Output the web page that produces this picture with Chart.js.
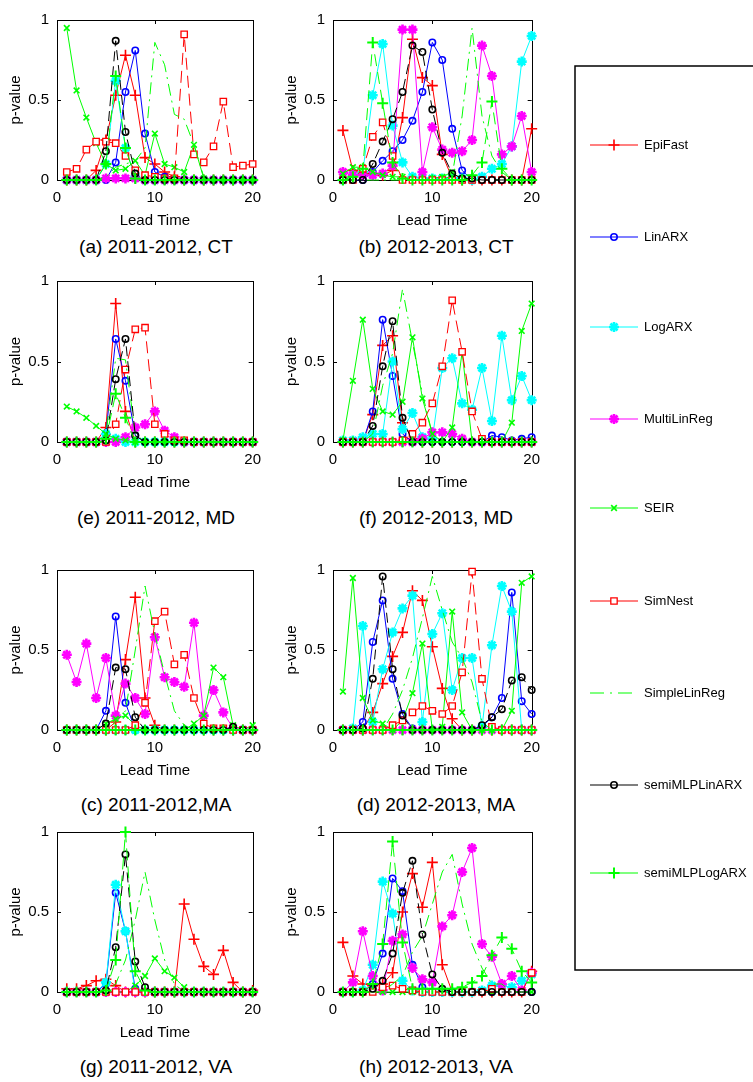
<!DOCTYPE html>
<html>
<head>
<meta charset="utf-8">
<script src="https://cdn.jsdelivr.net/npm/chart.js@4"></script>
<style>
body { margin: 0; background: #fff; width: 753px; height: 1082px; position: relative; overflow: hidden;
       font-family: "Liberation Sans", Arial, sans-serif; }
canvas { position: absolute; }
.caption { position: absolute; font-size: 19px; line-height: 22px; color: #000; transform: translateX(-50%); white-space: nowrap; }
</style>
</head>
<body>
<script>
// lead time on x axis
const leadTime = [1, 2, 3, 4, 5, 6, 7, 8, 9, 10, 11, 12, 13, 14, 15, 16, 17, 18, 19, 20];

const methods = ['EpiFast', 'LinARX', 'LogARX', 'MultiLinReg', 'SEIR', 'SimNest', 'SimpleLinReg', 'semiMLPLinARX', 'semiMLPLogARX'];

// p-values per panel, one row per method in the order above
const ct1112 = [
  [0, 0, 0, 0.06, 0.25, 0.53, 0.78, 0.53, 0.14, 0.10, 0.05, 0.02, 0, 0, 0, 0, 0, 0, 0, 0],
  [0, 0, 0, 0, 0, 0.11, 0.55, 0.81, 0.29, 0.05, 0.02, 0, 0, 0, 0, 0, 0, 0, 0, 0],
  [0, 0, 0, 0, 0.10, 0.62, 0.20, 0.02, 0, 0, 0, 0, 0, 0, 0, 0, 0, 0, 0, 0],
  [0, 0, 0, 0, 0.01, 0.01, 0.01, 0.01, 0, 0, 0, 0, 0, 0, 0, 0, 0, 0, 0, 0],
  [0.95, 0.56, 0.39, 0.23, 0.10, 0.06, 0.07, 0.12, 0.03, 0.29, 0.10, 0.08, 0.05, 0.22, 0.01, 0, 0, 0, 0, 0],
  [0.05, 0.07, 0.19, 0.24, 0.24, 0.23, 0.15, 0.06, 0.03, 0.02, 0.01, 0.01, 0.91, 0.16, 0.11, 0.21, 0.49, 0.08, 0.09, 0.10],
  [0, 0, 0, 0, 0.02, 0.08, 0.10, 0.12, 0.20, 0.86, 0.72, 0.41, 0.38, 0.22, 0.02, 0, 0, 0, 0, 0],
  [0, 0, 0, 0, 0.18, 0.87, 0.30, 0.04, 0, 0, 0, 0, 0, 0, 0, 0, 0, 0, 0, 0],
  [0, 0, 0, 0, 0.10, 0.65, 0.20, 0.01, 0, 0, 0, 0, 0, 0, 0, 0, 0, 0, 0, 0]
];
const ct1213 = [
  [0.31, 0.06, 0.04, 0.04, 0.03, 0.06, 0.39, 0.88, 0.64, 0.59, 0.16, 0.01, 0, 0, 0, 0, 0, 0, 0, 0.32],
  [0, 0, 0, 0.05, 0.12, 0.18, 0.25, 0.37, 0.55, 0.86, 0.75, 0.32, 0.06, 0, 0, 0, 0, 0, 0, 0],
  [0, 0.03, 0.05, 0.53, 0.85, 0.34, 0.11, 0.02, 0.01, 0.01, 0.01, 0.01, 0.01, 0, 0.02, 0.07, 0.10, 0.21, 0.74, 0.90],
  [0.05, 0.03, 0.03, 0.03, 0.04, 0.09, 0.94, 0.94, 0.05, 0.33, 0.19, 0.17, 0.18, 0.25, 0.84, 0.65, 0.16, 0.21, 0.40, 0.05],
  [0.04, 0.08, 0.08, 0.05, 0.03, 0.02, 0.02, 0, 0, 0.01, 0.02, 0.05, 0, 0, 0, 0, 0, 0, 0, 0],
  [0, 0, 0.07, 0.27, 0.36, 0.15, 0, 0, 0, 0, 0, 0, 0, 0, 0, 0, 0, 0, 0, 0],
  [0, 0, 0, 0, 0, 0, 0, 0, 0, 0, 0, 0.03, 0.40, 0.95, 0.40, 0.15, 0.05, 0, 0, 0],
  [0, 0, 0, 0.10, 0.24, 0.38, 0.55, 0.84, 0.80, 0.44, 0.17, 0.04, 0.01, 0.01, 0, 0, 0, 0, 0, 0],
  [0, 0.02, 0.07, 0.86, 0.48, 0.11, 0.01, 0, 0, 0, 0, 0, 0, 0.03, 0.11, 0.49, 0.07, 0, 0, 0]
];
const md1112 = [
  [0, 0, 0, 0, 0.09, 0.86, 0.19, 0, 0, 0, 0, 0, 0, 0, 0, 0, 0, 0, 0, 0],
  [0, 0, 0, 0, 0.05, 0.64, 0.38, 0.04, 0, 0, 0, 0, 0, 0, 0, 0, 0, 0, 0, 0],
  [0, 0, 0, 0, 0.05, 0.02, 0, 0, 0, 0, 0, 0, 0, 0, 0, 0, 0, 0, 0, 0],
  [0, 0, 0, 0, 0, 0, 0.03, 0.09, 0.11, 0.19, 0.07, 0.03, 0, 0, 0, 0, 0, 0, 0, 0],
  [0.22, 0.19, 0.15, 0.10, 0.05, 0.02, 0.01, 0, 0, 0, 0, 0, 0, 0, 0, 0, 0, 0, 0, 0],
  [0, 0, 0, 0, 0, 0.11, 0.45, 0.70, 0.71, 0.11, 0.05, 0.01, 0.01, 0, 0, 0, 0, 0, 0, 0],
  [0, 0, 0, 0, 0.05, 0.52, 0.51, 0.05, 0, 0, 0, 0, 0, 0, 0, 0, 0, 0, 0, 0],
  [0, 0, 0, 0, 0.01, 0.39, 0.64, 0.04, 0, 0, 0, 0, 0, 0, 0, 0, 0, 0, 0, 0],
  [0, 0, 0, 0, 0.02, 0.30, 0.15, 0, 0, 0, 0, 0, 0, 0, 0, 0, 0, 0, 0, 0]
];
const md1213 = [
  [0, 0, 0, 0.17, 0.60, 0.66, 0.12, 0.02, 0, 0, 0, 0, 0, 0, 0, 0, 0, 0, 0, 0],
  [0, 0, 0, 0.19, 0.76, 0.41, 0.05, 0, 0, 0, 0, 0, 0, 0, 0, 0.04, 0.03, 0.01, 0.02, 0.03],
  [0.01, 0.01, 0.03, 0.05, 0.05, 0.50, 0.08, 0.18, 0.03, 0.02, 0.46, 0.52, 0.24, 0.20, 0.46, 0.13, 0.66, 0.26, 0.41, 0.26],
  [0, 0, 0, 0, 0, 0, 0, 0, 0.02, 0.06, 0.06, 0.05, 0.02, 0, 0, 0, 0, 0, 0, 0],
  [0.01, 0.38, 0.76, 0.33, 0.19, 0.17, 0.25, 0.65, 0.27, 0.05, 0, 0.09, 0.56, 0, 0, 0, 0, 0.12, 0.69, 0.86],
  [0, 0, 0, 0, 0, 0, 0.01, 0.05, 0.12, 0.24, 0.47, 0.88, 0.56, 0.19, 0.02, 0, 0, 0, 0, 0],
  [0, 0, 0, 0.05, 0.35, 0.55, 0.95, 0.62, 0.30, 0.05, 0, 0, 0, 0, 0, 0, 0, 0, 0, 0],
  [0, 0, 0, 0.10, 0.47, 0.75, 0.15, 0, 0, 0, 0, 0, 0, 0, 0, 0, 0, 0, 0, 0],
  [0, 0, 0, 0, 0, 0, 0, 0, 0, 0, 0, 0, 0, 0, 0, 0, 0, 0, 0, 0]
];
const ma1112 = [
  [0, 0, 0, 0, 0, 0.05, 0.44, 0.83, 0.20, 0.03, 0, 0, 0, 0, 0, 0, 0, 0, 0, 0],
  [0, 0, 0, 0, 0.12, 0.71, 0.17, 0, 0, 0, 0, 0, 0, 0, 0, 0, 0, 0, 0, 0],
  [0, 0, 0, 0, 0, 0, 0, 0, 0, 0, 0, 0, 0, 0, 0, 0, 0, 0, 0, 0],
  [0.47, 0.30, 0.54, 0.20, 0.45, 0.09, 0.29, 0.20, 0.10, 0.58, 0.33, 0.30, 0.27, 0.67, 0.09, 0.25, 0.11, 0.01, 0, 0],
  [0, 0, 0, 0, 0.04, 0.07, 0.09, 0.03, 0, 0, 0, 0, 0, 0.04, 0.09, 0.39, 0.33, 0.03, 0, 0.03],
  [0, 0, 0, 0, 0, 0, 0, 0.03, 0.17, 0.68, 0.74, 0.41, 0.47, 0.20, 0.04, 0.01, 0.01, 0, 0, 0],
  [0, 0, 0, 0, 0, 0.05, 0.12, 0.50, 0.90, 0.60, 0.35, 0.12, 0.03, 0, 0, 0, 0, 0, 0, 0],
  [0, 0, 0, 0, 0.04, 0.39, 0.38, 0.08, 0, 0, 0, 0, 0, 0, 0, 0, 0, 0.02, 0, 0],
  [0, 0, 0, 0, 0, 0, 0, 0, 0, 0, 0, 0, 0, 0, 0, 0, 0, 0, 0, 0]
];
const ma1213 = [
  [0, 0, 0, 0.11, 0.29, 0.46, 0.61, 0.87, 0.81, 0.52, 0.26, 0.07, 0, 0, 0, 0, 0, 0, 0, 0],
  [0, 0, 0.05, 0.55, 0.81, 0.32, 0.10, 0.01, 0, 0, 0, 0, 0, 0, 0.02, 0.08, 0.20, 0.86, 0.18, 0.10],
  [0, 0.01, 0.65, 0.05, 0.38, 0.61, 0.76, 0.84, 0.05, 0.60, 0.73, 0.25, 0.45, 0.45, 0.02, 0.53, 0.90, 0.74, 0, 0],
  [0, 0, 0, 0, 0, 0, 0, 0, 0, 0, 0, 0, 0, 0, 0, 0, 0, 0, 0, 0],
  [0.24, 0.95, 0.20, 0.06, 0.04, 0, 0.06, 0.23, 0.54, 0, 0.02, 0.74, 0.11, 0, 0, 0, 0, 0.12, 0.92, 0.96],
  [0, 0, 0, 0, 0, 0.03, 0.06, 0.11, 0.15, 0.12, 0.10, 0.15, 0.36, 0.99, 0.32, 0.02, 0, 0, 0, 0],
  [0, 0, 0, 0, 0, 0.10, 0.25, 0.45, 0.70, 0.96, 0.75, 0.55, 0.45, 0.30, 0.05, 0, 0, 0, 0, 0],
  [0, 0, 0.01, 0.32, 0.96, 0.38, 0.09, 0, 0, 0, 0, 0, 0, 0, 0.03, 0.08, 0.13, 0.31, 0.33, 0.25],
  [0, 0, 0, 0, 0, 0, 0, 0, 0, 0, 0, 0, 0, 0, 0, 0, 0, 0, 0, 0]
];
const va1112 = [
  [0.02, 0.02, 0.04, 0.07, 0.08, 0.04, 0, 0, 0, 0, 0, 0, 0.55, 0.33, 0.16, 0.11, 0.26, 0.06, 0, 0.01],
  [0, 0, 0, 0, 0.05, 0.62, 0.38, 0.02, 0, 0, 0, 0, 0, 0, 0, 0, 0, 0, 0, 0],
  [0, 0, 0, 0, 0.06, 0.67, 0.38, 0, 0, 0, 0, 0, 0, 0, 0, 0, 0, 0, 0, 0],
  [0, 0, 0, 0, 0, 0, 0, 0, 0, 0, 0, 0, 0, 0, 0, 0, 0, 0, 0, 0],
  [0, 0, 0, 0, 0, 0, 0, 0.04, 0.10, 0.21, 0.13, 0.09, 0.03, 0, 0, 0, 0, 0, 0, 0],
  [0, 0, 0, 0, 0, 0, 0, 0, 0, 0, 0, 0, 0, 0, 0, 0, 0, 0, 0, 0],
  [0, 0, 0, 0, 0, 0.05, 0.20, 0.45, 0.75, 0.45, 0.20, 0.05, 0, 0, 0, 0, 0, 0, 0, 0],
  [0, 0, 0, 0, 0.01, 0.28, 0.86, 0.19, 0.03, 0, 0, 0, 0, 0, 0, 0, 0, 0, 0, 0],
  [0, 0, 0, 0, 0.01, 0.20, 1.00, 0.13, 0.01, 0, 0, 0, 0, 0, 0, 0, 0, 0, 0, 0]
];
const va1213 = [
  [0.31, 0.10, 0.05, 0.04, 0.05, 0.12, 0.50, 0.74, 0.53, 0.81, 0.17, 0, 0, 0, 0, 0, 0, 0, 0, 0.13],
  [0, 0, 0, 0.05, 0.24, 0.71, 0.63, 0.17, 0.03, 0, 0, 0, 0, 0, 0, 0, 0, 0, 0, 0],
  [0, 0, 0.01, 0.17, 0.69, 0.49, 0.07, 0.01, 0, 0, 0, 0, 0, 0, 0.01, 0.04, 0.04, 0.03, 0.07, 0.11],
  [0, 0.06, 0.38, 0.10, 0.01, 0.32, 0.36, 0.15, 0.08, 0.06, 0.41, 0.48, 0.75, 0.90, 0.30, 0.22, 0.05, 0.10, 0.01, 0.12],
  [0, 0, 0, 0, 0, 0, 0, 0, 0, 0, 0, 0, 0, 0, 0, 0, 0, 0, 0, 0],
  [0, 0, 0, 0, 0.03, 0.04, 0.02, 0.01, 0, 0, 0, 0, 0, 0, 0, 0.02, 0, 0, 0, 0.12],
  [0, 0, 0, 0, 0, 0.05, 0.10, 0.25, 0.35, 0.55, 0.75, 0.86, 0.55, 0.30, 0.15, 0.05, 0.05, 0, 0, 0],
  [0, 0, 0, 0.02, 0.07, 0.24, 0.62, 0.82, 0.36, 0.11, 0.02, 0, 0, 0, 0, 0, 0, 0, 0, 0],
  [0, 0, 0, 0.05, 0.30, 0.94, 0.31, 0.02, 0.02, 0.02, 0.02, 0.02, 0.03, 0.06, 0.10, 0.23, 0.34, 0.27, 0.13, 0.06]
];

const captions = ['(a) 2011-2012, CT', '(b) 2012-2013, CT', '(e) 2011-2012, MD', '(f) 2012-2013, MD',
                  '(c) 2011-2012,MA', '(d) 2012-2013, MA', '(g) 2011-2012, VA', '(h) 2012-2013, VA'];
const panelData = [ct1112, ct1213, md1112, md1213, ma1112, ma1213, va1112, va1213];

// look of each method (matlab style)
const styles = [
  { color: '#ff0000', point: 'cross',    radius: 5.5, bw: 1.6, fill: '#ff0000', dash: [] },
  { color: '#0000ff', point: 'circle',   radius: 3.2, bw: 1.6, fill: 'rgba(0,0,0,0)', dash: [] },
  { color: '#00ffff', point: 'star',     radius: 5,   bw: 2.6, fill: '#00ffff', dash: [] },
  { color: '#ff00ff', point: 'star',     radius: 5,   bw: 2.6, fill: '#ff00ff', dash: [] },
  { color: '#00ff00', point: 'crossRot', radius: 4,   bw: 1.6, fill: '#00ff00', dash: [] },
  { color: '#ff0000', point: 'rect',     radius: 4.5, bw: 1.3, fill: '#ffffff', dash: [12, 6] },
  { color: '#00ff00', point: false,      radius: 0,   bw: 1,   fill: '#00ff00', dash: [12, 5, 2, 5] },
  { color: '#000000', point: 'circle',   radius: 3.2, bw: 1.6, fill: 'rgba(0,0,0,0)', dash: [10, 5] },
  { color: '#00ff00', point: 'cross',    radius: 5.5, bw: 2,   fill: '#00ff00', dash: [12, 6] }
];

const colLeft = [57, 333], colRight = [260, 539];
const rowTop = [13, 274, 563, 825], rowBottom = [180, 442, 730, 992];
const captionX = [156, 436], captionY = [247, 518, 805, 1067];

const fontFamily = '"Liberation Sans", Arial, sans-serif';

const framePlugin = {
  id: 'frame',
  beforeDatasetsDraw(chart) {
    const { ctx, chartArea: a, scales } = chart;
    ctx.save();
    ctx.strokeStyle = '#000';
    ctx.lineWidth = 1;
    ctx.strokeRect(Math.round(a.left) + 0.5, Math.round(a.top) + 0.5, Math.round(a.right - a.left), Math.round(a.bottom - a.top));
    ctx.beginPath();
    [0, 10, 20].forEach(v => {
      const px = Math.round(scales.x.getPixelForValue(v)) + 0.5;
      ctx.moveTo(px, a.bottom); ctx.lineTo(px, a.bottom - 4);
      ctx.moveTo(px, a.top); ctx.lineTo(px, a.top + 4);
    });
    [0, 0.5, 1].forEach(v => {
      const py = Math.round(scales.y.getPixelForValue(v)) + 0.5;
      ctx.moveTo(a.left, py); ctx.lineTo(a.left + 4, py);
      ctx.moveTo(a.right, py); ctx.lineTo(a.right - 4, py);
    });
    ctx.stroke();
    ctx.restore();
  }
};

function makeCanvas(left, top, w, h) {
  const c = document.createElement('canvas');
  c.width = w; c.height = h;
  c.style.left = left + 'px'; c.style.top = top + 'px';
  c.style.width = w + 'px'; c.style.height = h + 'px';
  document.body.appendChild(c);
  return c;
}

panelData.forEach((rows, p) => {
  const col = p % 2, row = Math.floor(p / 2);
  const l = colLeft[col], r = colRight[col], t = rowTop[row], b = rowBottom[row];
  const canvas = makeCanvas(l - 50, t - 10, r - l + 60, b - t + 60);

  const datasets = methods.map((name, i) => {
    const s = styles[i];
    return {
      label: name,
      data: leadTime.map((x, j) => ({ x: x, y: rows[i][j] })),
      borderColor: s.color,
      borderWidth: 1,
      borderDash: s.dash,
      pointStyle: s.point,
      pointRadius: s.radius,
      pointBorderWidth: s.bw,
      pointBorderColor: s.color,
      pointBackgroundColor: s.fill,
      tension: 0,
      fill: false,
      clip: false,
      order: methods.length - i
    };
  });

  new Chart(canvas.getContext('2d'), {
    type: 'line',
    data: { datasets: datasets },
    options: {
      responsive: false,
      animation: false,
      events: [],
      layout: { padding: { top: 10, right: 10, left: 0, bottom: 0 } },
      plugins: { legend: { display: false }, tooltip: { enabled: false } },
      scales: {
        x: {
          type: 'linear', min: 0, max: 20,
          ticks: { stepSize: 10, padding: 9, color: '#000', maxRotation: 0, font: { family: fontFamily, size: 15 },
                   callback: v => String(v) },
          grid: { display: false, drawTicks: false },
          border: { display: false },
          title: { display: true, text: 'Lead Time', color: '#000', font: { family: fontFamily, size: 15 }, padding: { top: 0, bottom: 0 } },
          afterFit(scale) { scale.height = 50; }
        },
        y: {
          type: 'linear', min: 0, max: 1,
          ticks: { stepSize: 0.5, padding: 8, color: '#000', font: { family: fontFamily, size: 15 },
                   callback: v => String(Number(v)) },
          grid: { display: false, drawTicks: false },
          border: { display: false },
          title: { display: true, text: 'p-value', color: '#000', font: { family: fontFamily, size: 15 }, padding: { top: 0, bottom: 0 } },
          afterFit(scale) { scale.width = 50; }
        }
      }
    },
    plugins: [framePlugin]
  });

  const cap = document.createElement('div');
  cap.className = 'caption';
  cap.textContent = captions[p];
  cap.style.left = captionX[col] + 'px';
  cap.style.top = (captionY[row] - 11) + 'px';
  document.body.appendChild(cap);
});

// legend panel on the right
const legendTop = 65, legendLeft = 574;
const legendY = [145, 237, 327, 419, 508, 601, 693, 785, 873];

const legendPlugin = {
  id: 'boxLegend',
  afterDraw(chart) {
    const ctx = chart.ctx;
    ctx.save();
    ctx.strokeStyle = '#000';
    ctx.lineWidth = 1.5;
    ctx.strokeRect(1, 1, chart.width + 10, 904);
    chart.data.datasets.forEach((ds, i) => {
      const y = legendY[i] - legendTop;
      const s = styles[i];
      ctx.strokeStyle = s.color;
      ctx.lineWidth = 1.2;
      ctx.setLineDash(i === 6 ? [14, 6, 2, 6] : []);
      ctx.beginPath();
      ctx.moveTo(16, y); ctx.lineTo(64, y);
      ctx.stroke();
      ctx.setLineDash([]);
      if (s.point) {
        ctx.fillStyle = s.fill;
        ctx.strokeStyle = s.color;
        ctx.lineWidth = s.bw;
        Chart.helpers.drawPoint(ctx, { pointStyle: s.point, radius: s.radius, rotation: 0, borderWidth: s.bw }, 40, y);
      }
      ctx.fillStyle = '#000';
      ctx.font = '13px ' + fontFamily;
      ctx.textBaseline = 'middle';
      ctx.fillText(ds.label, 70, y);
    });
    ctx.restore();
  }
};

const legendCanvas = makeCanvas(legendLeft, legendTop, 753 - legendLeft, 906);
new Chart(legendCanvas.getContext('2d'), {
  type: 'line',
  data: { datasets: methods.map(name => ({ label: name, data: [] })) },
  options: {
    responsive: false,
    animation: false,
    events: [],
    plugins: { legend: { display: false }, tooltip: { enabled: false } },
    scales: { x: { display: false }, y: { display: false } }
  },
  plugins: [legendPlugin]
});
</script>
</body>
</html>
